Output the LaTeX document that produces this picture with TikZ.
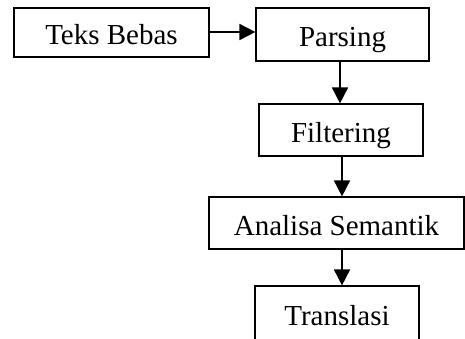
\documentclass[tikz,border=0pt]{standalone}
\usepackage{fontspec}
\setmainfont{Liberation Serif}
\usetikzlibrary{arrows.meta}
\begin{document}
\begin{tikzpicture}[x=1pt,y=-1pt,
  box/.style={draw=black, line width=1.2pt, inner sep=0pt, text height=24pt, text depth=0pt,
    font=\fontsize{29}{31}\selectfont},
  arr/.style={draw=black, line width=1.8pt, -{Triangle[length=16pt,width=16pt]}}]
\useasboundingbox (0,0) rectangle (465,338);
\begin{scope}
\clip (0,0) rectangle (465,338);
\node[box, minimum width=195pt, minimum height=49pt] (tb) at (111.5,32.5) {Teks Bebas};
\node[box, minimum width=173pt, minimum height=53pt] (pa) at (342.5,34.5) {Parsing};
\node[box, minimum width=164pt, minimum height=52pt] (fi) at (341,130) {Filtering};
\node[box, minimum width=255pt, minimum height=52pt] (an) at (336.5,223) {Analisa Semantik};
\node[box, minimum width=164pt, minimum height=54pt] (tr) at (337,313) {Translasi};
\end{scope}
\draw[arr] (tb.east |- 0,32) -- (pa.west |- 0,32);
\draw[arr] (pa.south -| 340,0) -- (fi.north -| 340,0);
\draw[arr] (fi.south -| 342,0) -- (an.north -| 342,0);
\draw[arr] (an.south -| 342,0) -- (tr.north -| 342,0);
\end{tikzpicture}
\end{document}
